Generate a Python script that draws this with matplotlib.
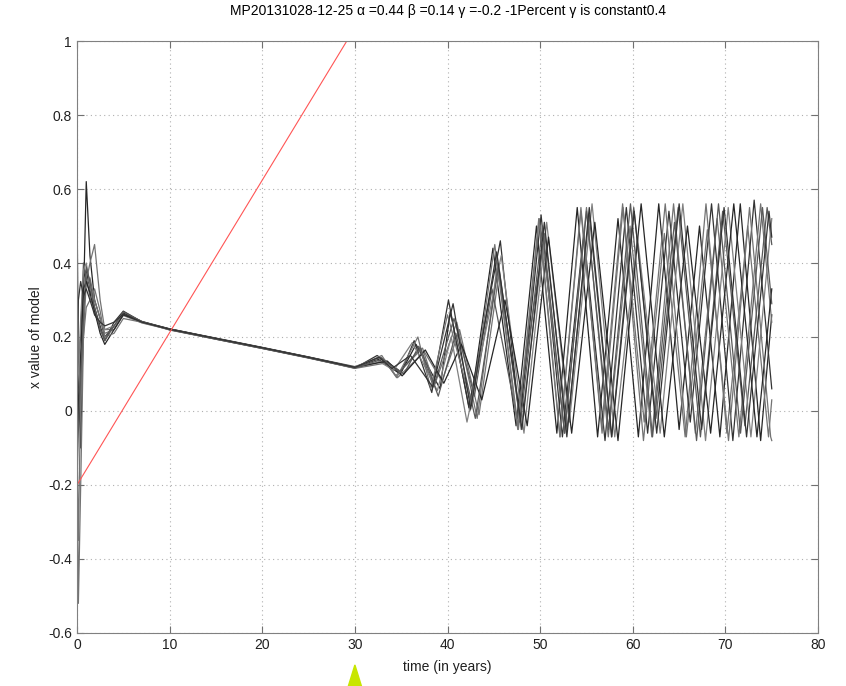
import matplotlib
matplotlib.use("Agg")
import matplotlib.pyplot as plt
import matplotlib.transforms as mtransforms
from matplotlib.patches import Polygon

plt.rcParams['font.family'] = ['Liberation Sans', 'DejaVu Sans']

# early phase: shared sample times, one value list per run
t_early = [0, 0.15, 0.4, 0.7, 1, 1.4, 1.9, 2.5, 3, 4, 5, 7, 10, 15, 20, 25, 30]
early_vals = [
    [0.58, 0.10, -0.10, 0.30, 0.62, 0.42, 0.30, 0.25, 0.20, 0.23, 0.265, 0.242, 0.222, 0.196, 0.171, 0.145, 0.117],
    [0.00, -0.52, -0.20, 0.20, 0.35, 0.40, 0.45, 0.30, 0.22, 0.22, 0.260, 0.240, 0.221, 0.195, 0.170, 0.144, 0.118],
    [0.20, 0.00, 0.10, 0.36, 0.38, 0.33, 0.28, 0.23, 0.19, 0.24, 0.270, 0.241, 0.219, 0.194, 0.169, 0.143, 0.116],
    [-0.10, -0.35, 0.05, 0.30, 0.34, 0.36, 0.30, 0.25, 0.21, 0.22, 0.260, 0.238, 0.220, 0.195, 0.170, 0.144, 0.115],
    [0.30, 0.15, 0.20, 0.40, 0.36, 0.31, 0.27, 0.22, 0.20, 0.23, 0.262, 0.240, 0.221, 0.196, 0.171, 0.146, 0.120],
    [0.05, 0.10, 0.25, 0.38, 0.40, 0.34, 0.26, 0.24, 0.22, 0.23, 0.258, 0.239, 0.220, 0.195, 0.170, 0.145, 0.119],
    [0.10, -0.05, 0.15, 0.33, 0.35, 0.32, 0.27, 0.21, 0.18, 0.22, 0.260, 0.241, 0.222, 0.197, 0.172, 0.146, 0.118],
    [0.40, 0.20, 0.00, 0.20, 0.28, 0.30, 0.33, 0.27, 0.20, 0.21, 0.250, 0.240, 0.221, 0.196, 0.171, 0.145, 0.117],
    [-0.20, -0.05, 0.10, 0.25, 0.39, 0.35, 0.28, 0.22, 0.19, 0.23, 0.268, 0.242, 0.220, 0.194, 0.169, 0.144, 0.116],
    [0.15, 0.30, 0.35, 0.31, 0.33, 0.30, 0.26, 0.24, 0.23, 0.24, 0.262, 0.240, 0.221, 0.196, 0.171, 0.145, 0.118],
]

# late phase: turning points of each run after t=30
late_t = [
    [32.5, 34.9, 36.6, 39.2, 40.3, 42.4, 44.9, 47.40, 49.60, 51.80, 54.0, 56.20, 58.40, 60.60, 62.8, 65.00, 67.20, 69.40, 71.6, 73.80, 75],
    [33.2, 34.4, 37.3, 38.6, 41.0, 43.2, 45.4, 47.65, 49.90, 52.15, 54.4, 56.65, 58.90, 61.15, 63.4, 65.65, 67.90, 70.15, 72.4, 74.65, 75],
    [32.4, 35.0, 36.4, 38.3, 40.1, 42.3, 45.7, 47.80, 50.10, 52.40, 54.7, 57.00, 59.30, 61.60, 63.9, 66.20, 68.50, 70.80, 73.1, 75],
    [33.4, 34.6, 37.5, 39.4, 41.3, 43.4, 45.6, 47.95, 50.30, 52.65, 55.0, 57.35, 59.70, 62.05, 64.4, 66.75, 69.10, 71.45, 73.8, 75],
    [32.8, 35.3, 36.9, 38.5, 40.7, 42.9, 44.8, 47.50, 50.50, 52.90, 55.3, 57.70, 60.10, 62.50, 64.9, 67.30, 69.70, 72.10, 74.5, 75],
    [32.2, 34.2, 36.2, 38.9, 40.4, 42.1, 45.8, 48.25, 50.70, 53.15, 55.6, 58.05, 60.50, 62.95, 65.4, 67.85, 70.30, 72.75, 75],
    [33.5, 35.1, 37.6, 39.6, 41.5, 43.7, 46.2, 48.60, 50.90, 53.40, 55.9, 58.40, 60.90, 63.40, 65.9, 68.40, 70.90, 73.40, 75],
    [32.9, 34.5, 36.8, 38.2, 40.0, 42.6, 45.1, 47.58, 49.85, 52.13, 54.4, 56.68, 58.95, 61.23, 63.5, 65.78, 68.05, 70.33, 72.6, 74.88, 75],
    [33.0, 34.8, 37.1, 39.0, 40.9, 43.0, 45.5, 47.88, 50.25, 52.63, 55.0, 57.38, 59.75, 62.13, 64.5, 66.88, 69.25, 71.63, 74.0, 75],
    [32.6, 34.0, 36.0, 38.4, 40.6, 42.5, 45.3, 48.03, 50.45, 52.88, 55.3, 57.73, 60.15, 62.58, 65.0, 67.43, 69.85, 72.28, 74.7, 75],
]
late_vals = [
    [0.140, 0.100, 0.180, 0.060, 0.270, 0.000, 0.44, -0.04, 0.50, -0.06, 0.55, -0.07, 0.52, -0.07, 0.56, -0.05, 0.50, -0.07, 0.56, -0.08, 0.26],
    [0.135, 0.095, 0.170, 0.070, 0.240, -0.02, 0.40, -0.05, 0.52, -0.07, 0.54, -0.04, 0.56, -0.08, 0.48, -0.07, 0.56, -0.06, 0.50, -0.07, 0.03],
    [0.150, 0.105, 0.190, 0.050, 0.300, 0.010, 0.46, -0.03, 0.53, -0.07, 0.48, -0.08, 0.55, -0.06, 0.54, -0.03, 0.56, -0.08, 0.57, 0.06],
    [0.130, 0.090, 0.160, 0.080, 0.220, -0.01, 0.38, -0.05, 0.45, -0.06, 0.55, -0.07, 0.50, -0.07, 0.56, -0.06, 0.52, -0.07, 0.56, 0.24],
    [0.145, 0.100, 0.175, 0.065, 0.250, 0.040, 0.33, -0.02, 0.48, -0.05, 0.53, -0.07, 0.55, -0.02, 0.55, -0.07, 0.54, -0.04, 0.55, 0.45],
    [0.140, 0.110, 0.185, 0.055, 0.200, -0.03, 0.42, -0.06, 0.51, -0.03, 0.56, -0.07, 0.47, -0.06, 0.56, -0.08, 0.55, -0.07, 0.52],
    [0.135, 0.095, 0.165, 0.075, 0.180, 0.030, 0.30, -0.04, 0.47, -0.06, 0.51, -0.08, 0.56, -0.07, 0.50, -0.06, 0.56, -0.07, 0.33],
    [0.150, 0.090, 0.200, 0.060, 0.260, 0.015, 0.45, -0.05, 0.52, -0.07, 0.55, -0.06, 0.55, -0.03, 0.56, -0.07, 0.49, -0.08, 0.55, -0.07, -0.08],
    [0.140, 0.105, 0.170, 0.040, 0.210, -0.02, 0.39, -0.03, 0.50, -0.06, 0.54, -0.05, 0.56, -0.07, 0.51, -0.08, 0.56, -0.06, 0.55, 0.29],
    [0.145, 0.115, 0.150, 0.065, 0.290, 0.005, 0.43, -0.05, 0.51, -0.07, 0.55, -0.07, 0.54, -0.06, 0.56, -0.05, 0.55, -0.07, 0.54, 0.47],
]
line_colors = ['0.15', '0.45', '0.2', '0.45', '0.35', '0.5', '0.15', '0.45', '0.35', '0.2']

# red reference line
red_t = [0, 30]
red_x = [-0.2, 1.036]

xticks = [0, 10, 20, 30, 40, 50, 60, 70, 80]
yticks = [-0.6, -0.4, -0.2, 0, 0.2, 0.4, 0.6, 0.8, 1]
ytick_labels = ['-0.6', '-0.4', '-0.2', '0', '0.2', '0.4', '0.6', '0.8', '1']
marker_t = 30

fig = plt.figure(figsize=(8.46, 6.86), dpi=100)
ax = fig.add_axes([0.091, 0.0773, 0.876, 0.8629])

for i in range(len(early_vals)):
    ts = t_early + late_t[i]
    xs = early_vals[i] + late_vals[i]
    ax.plot(ts, xs, color=line_colors[i], lw=0.9)

ax.plot(red_t, red_x, color='#ff5555', lw=0.8)

ax.set_xlim(0, 80)
ax.set_ylim(-0.6, 1)
ax.set_xticks(xticks)
ax.set_xticklabels([str(v) for v in xticks])
ax.set_yticks(yticks)
ax.set_yticklabels(ytick_labels)
ax.grid(True, color='#b0b0b0', linestyle=(0, (1, 3)), lw=0.8)
ax.tick_params(direction='in', top=True, right=True, length=5, labelsize=10,
               color='#707070', labelcolor='#202020')
for s in ax.spines.values():
    s.set_color('#808080')

ax.set_xlabel('time (in years)', fontsize=10, color='#202020', labelpad=6)
ax.set_ylabel('x value of model', fontsize=10, color='#202020')
ax.set_title('MP20131028-12-25 α =0.44 β =0.14 γ =-0.2 -1Percent γ is constant0.4',
             fontsize=10, pad=19)

# green triangle under the x axis
trans = mtransforms.blended_transform_factory(ax.transData, ax.transAxes)
tri = Polygon([[marker_t - 0.75, -0.092], [marker_t + 0.75, -0.092], [marker_t, -0.054]],
              closed=True, transform=trans, clip_on=False, color='#c8e600')
ax.add_patch(tri)

fig.savefig('out.png', dpi=100)
